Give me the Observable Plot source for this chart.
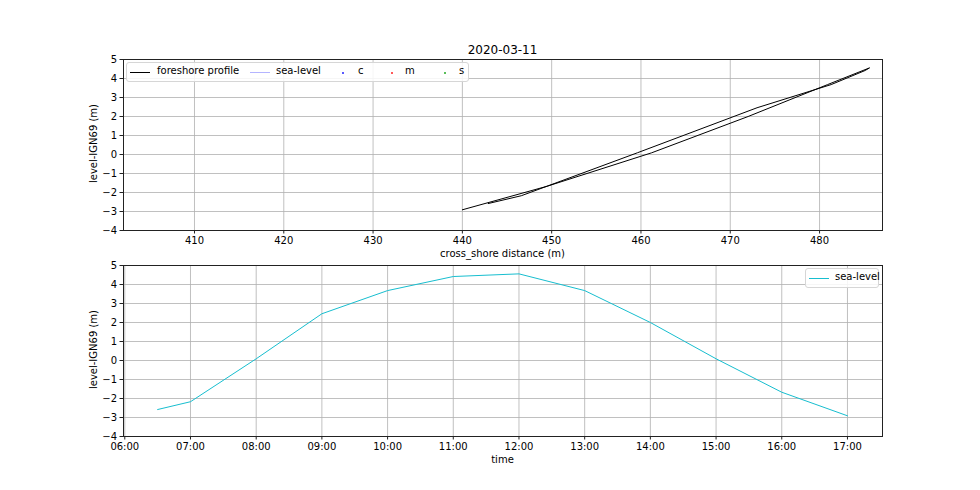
<!DOCTYPE html>
<html>
<head>
<meta charset="utf-8">
<script src="https://cdn.jsdelivr.net/npm/d3@7"></script>
<script src="https://cdn.jsdelivr.net/npm/@observablehq/plot@0.6"></script>
<style>
  html, body { margin: 0; padding: 0; background: #fff; }
  #wrap { position: relative; width: 980px; height: 490px; font-family: "DejaVu Sans", sans-serif; color: #000; overflow: hidden; }
  .abs { position: absolute; white-space: nowrap; }
  .title { font-size: 12px; left: 0; width: 1005px; text-align: center; top: 43px; }
  .xlab { font-size: 10px; left: 123px; width: 759px; text-align: center; }
  .ylab { font-size: 10px; transform: rotate(-90deg); transform-origin: center center; width: 120px; text-align: center; }
  .legend { border: 1px solid #d6d6d6; border-radius: 3px; background: rgba(255,255,255,0.85); font-size: 10px; }
  .legend .sw, .legend .dot, .legend .lt { position: absolute; }
  .sw { width: 20px; height: 0; border-top: 1px solid; top: 9px; }
  .dot { width: 2px; height: 2px; border-radius: 1px; top: 9px; }
  .lt { top: 2px; }
  svg { position: absolute; left: 0; }
</style>
</head>
<body>
<div id="wrap"></div>
<script>
// ---- data ----
const title = "2020-03-11";
const times = ["06:30","07:00","08:00","09:00","10:00","11:00","12:00","13:00","14:00","15:00","16:00","17:00"];
const seaLevel = [-2.58, -2.17, 0.09, 2.46, 3.68, 4.42, 4.56, 3.68, 2.00, 0.09, -1.67, -2.91];
const shoreX = [442.9, 446.6, 459.6, 473.0, 481.3, 485.1, 485.6, 480.9, 472.0, 461.2, 449.5, 440.0];
const xTicksTop = [410, 420, 430, 440, 450, 460, 470, 480];
const yTicks = [-4, -3, -2, -1, 0, 1, 2, 3, 4, 5];
const timeTicks = ["06:00","07:00","08:00","09:00","10:00","11:00","12:00","13:00","14:00","15:00","16:00","17:00"];
const legendTop = ["foreshore profile", "sea-level", "c", "m", "s"];

// ---- helpers ----
const toDate = s => { const [h, m] = s.split(":").map(Number); return new Date(Date.UTC(2020, 2, 11, h, m)); };
const profile = shoreX.map((x, i) => ({x, y: seaLevel[i]}));
const series = times.map((t, i) => ({t: toDate(t), y: seaLevel[i]}));
const tTicks = timeTicks.map(toDate);

const wrap = document.getElementById("wrap");
const style = {fontFamily: "DejaVu Sans, sans-serif", fontSize: "10px", background: "transparent", color: "#000", overflow: "visible"};
const gridColor = "#b0b0b0";
const frameColor = "#222";

// ---- top plot ----
const topPlot = Plot.plot({
  width: 980, height: 260,
  marginLeft: 123, marginRight: 98, marginTop: 59, marginBottom: 30,
  style,
  x: {domain: [402.05, 487.05], label: null},
  y: {domain: [-4, 5], label: null},
  marks: [
    Plot.ruleX(xTicksTop, {stroke: gridColor, strokeWidth: 0.8}),
    Plot.ruleY(yTicks, {stroke: gridColor, strokeWidth: 0.8}),
    Plot.line(profile, {x: "x", y: "y", stroke: "black", strokeWidth: 1}),
    Plot.frame({stroke: frameColor, strokeWidth: 1}),
    Plot.axisX({ticks: xTicksTop, tickSize: 3.5, tickPadding: 3, label: null, stroke: frameColor}),
    Plot.axisY({ticks: yTicks, tickSize: 3.5, tickPadding: 3, label: null, stroke: frameColor})
  ]
});
topPlot.style.top = "0px";
wrap.appendChild(topPlot);

// ---- bottom plot ----
const bottomPlot = Plot.plot({
  width: 980, height: 230,
  marginLeft: 123, marginRight: 98, marginTop: 5, marginBottom: 54,
  style,
  x: {type: "utc", domain: [new Date(Date.UTC(2020, 2, 11, 5, 58, 49)), new Date(Date.UTC(2020, 2, 11, 17, 32, 0))], label: null},
  y: {domain: [-4, 5], label: null},
  marks: [
    Plot.ruleX(tTicks, {stroke: gridColor, strokeWidth: 0.8}),
    Plot.ruleY(yTicks, {stroke: gridColor, strokeWidth: 0.8}),
    Plot.line(series, {x: "t", y: "y", stroke: "#17becf", strokeWidth: 1}),
    Plot.frame({stroke: frameColor, strokeWidth: 1}),
    Plot.axisX({ticks: tTicks, tickFormat: d3.utcFormat("%H:%M"), tickSize: 3.5, tickPadding: 3, label: null, stroke: frameColor}),
    Plot.axisY({ticks: yTicks, tickSize: 3.5, tickPadding: 3, label: null, stroke: frameColor})
  ]
});
bottomPlot.style.top = "260px";
wrap.appendChild(bottomPlot);

// ---- texts ----
function addDiv(parent, cls, text, css) {
  const d = document.createElement("div");
  d.className = cls;
  if (text != null) d.textContent = text;
  Object.assign(d.style, css);
  parent.appendChild(d);
  return d;
}
addDiv(wrap, "abs title", title, {});
addDiv(wrap, "abs xlab", "cross_shore distance (m)", {top: "248px"});
addDiv(wrap, "abs xlab", "time", {top: "454px"});
addDiv(wrap, "abs ylab", "level-IGN69 (m)", {left: "33px", top: "138px"});
addDiv(wrap, "abs ylab", "level-IGN69 (m)", {left: "33px", top: "344px"});

// top legend (positions relative to box at x=126)
const lg = addDiv(wrap, "abs legend", null, {left: "126px", top: "62px", width: "341px", height: "18px"});
const items = [
  {label: legendTop[0], kind: "line", color: "#000", sw: 3, tx: 30},
  {label: legendTop[1], kind: "line", color: "#b4b4ff", sw: 123, tx: 149},
  {label: legendTop[2], kind: "dot", color: "#2222ff", sw: 215, tx: 231},
  {label: legendTop[3], kind: "dot", color: "#ff2222", sw: 264, tx: 278},
  {label: legendTop[4], kind: "dot", color: "#22aa22", sw: 317, tx: 332}
];
for (const it of items) {
  if (it.kind === "line") addDiv(lg, "sw", null, {left: it.sw + "px", borderTopColor: it.color});
  else addDiv(lg, "dot", null, {left: it.sw + "px", background: it.color});
  addDiv(lg, "lt", it.label, {left: it.tx + "px"});
}

// bottom legend
const lg2 = addDiv(wrap, "abs legend", null, {left: "805px", top: "268px", width: "72px", height: "18px"});
addDiv(lg2, "sw", null, {left: "3px", borderTopColor: "#17becf"});
addDiv(lg2, "lt", "sea-level", {left: "29px"});
</script>
</body>
</html>
